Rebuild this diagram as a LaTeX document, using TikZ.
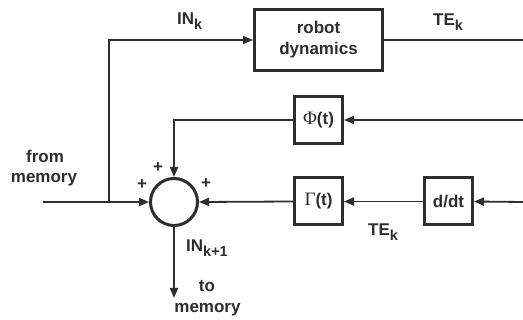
\documentclass[tikz,border=0pt]{standalone}
\usepackage{fontspec}
\setmainfont{Liberation Sans}
\newfontfamily\greekserif{Liberation Serif}
\usetikzlibrary{arrows.meta}
\definecolor{inkc}{gray}{0.18}
\newcommand\lowsub[1]{\raisebox{-5pt}{\fontsize{14.5}{14.5}\selectfont #1}}
\begin{document}
\begin{tikzpicture}[x=1pt,y=-1pt,
  blk/.style={draw=inkc, line width=3pt, minimum width=48pt, minimum height=47pt, inner sep=0pt,
    font=\fontsize{17}{21}\selectfont\bfseries, text=inkc, align=center},
  sumc/.style={circle, draw=inkc, line width=3pt, minimum size=47pt, inner sep=0pt},
  wire/.style={draw=inkc, line width=1.8pt},
  arr/.style={wire, -{Triangle[length=10pt,width=8pt]}},
  lbl/.style={inner sep=0pt, text=inkc, font=\fontsize{17}{21}\selectfont\bfseries},
  pl/.style={inner sep=0pt, text=inkc, font=\fontsize{17}{17}\selectfont\bfseries}
]
\useasboundingbox (0,0) rectangle (523,320);

% blocks
\node[blk, minimum width=128pt, minimum height=61pt] (robot) at (318.5,40) {robot\\dynamics};
\node[blk] (phi) at (318.5,120) {{\greekserif\mdseries\fontsize{19}{19}\selectfont Φ}(t)};
\node[blk] (gam) at (318.5,201.5) {{\greekserif\mdseries\fontsize{19}{19}\selectfont Γ}(t)};
\node[blk] (ddt) at (448.5,201.5) {d/dt};
\node[sumc] (sum) at (174,202) {};

% free ends
\coordinate (jn) at (109,202);
\coordinate (jtop) at (109,40);
\coordinate (in) at (43,202);
\coordinate (outTop) at (523,40);
\coordinate (inPhi) at (523,120);
\coordinate (inD) at (523,202);
\coordinate (out) at (174,298);

% connectors
\draw[wire] (in) -- (jn);
\draw[arr] (jn) -- (sum.west);
\draw[arr] (jn) -- (jtop) -- (robot.west);
\draw[wire] (robot.east) -- (outTop);
\draw[arr] (inPhi) -- (phi.east);
\draw[arr] (phi.west) -| (sum.north);
\draw[arr] (inD) -- (ddt.east);
\draw[arr] (ddt.west) -- (gam.east);
\draw[arr] (gam.west) -- (sum.east);
\draw[arr] (sum.south) -- (out);

% labels
\node[lbl, anchor=base west] (lin) at (177,25) {IN\lowsub{k}};
\node[lbl, anchor=base west] (lte) at (433,26) {TE\lowsub{k}};
\node[lbl, anchor=base west] (lte2) at (368,236) {TE\lowsub{k}};
\node[lbl, anchor=base west] (lin1) at (186,252) {IN\lowsub{k+1}};
\node[lbl, anchor=base] (from1) at (45,163) {from};
\node[lbl, anchor=base] (from2) at (44,183) {memory};
\node[lbl, anchor=base] (to1) at (207,292) {to};
\node[lbl, anchor=base] (to2) at (207.5,313) {memory};

% signs
\node[pl] (pl1) at (142,185) {+};
\node[pl] (pl2) at (158,168) {+};
\node[pl] (pl3) at (206,184) {+};
\end{tikzpicture}
\end{document}
